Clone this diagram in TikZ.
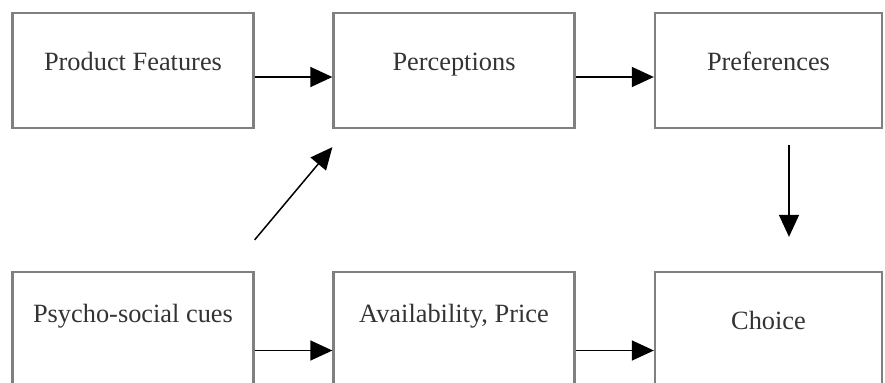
\documentclass[tikz,border=0pt]{standalone}
\usepackage{fontspec}
\setmainfont{Liberation Serif}
\usepackage{tikz}
\usetikzlibrary{arrows.meta}
\definecolor{boxline}{HTML}{808080}
\definecolor{boxtext}{HTML}{333333}
\tikzset{
  box/.style    = {draw=boxline,line width=1.3pt,minimum width=4.82cm,
                   minimum height=2.3cm,inner sep=0pt,text=boxtext,
                   font=\fontsize{15}{18}\selectfont,
                   text height=0.3cm,text depth=0.3cm},
  narrow/.style = {box,minimum width=4.54cm},
  lifted/.style = {text depth=0.58cm},
  flowarr/.style= {-{Triangle[length=0.44cm,width=0.4cm]},line width=0.85pt,black},
}

\begin{document}
\begin{tikzpicture}
  \clip (0,0) rectangle (17.7,-7.64);
  % top row
  \node[box]    (feat) at (2.66,-1.41)  {Product Features};
  \node[box]    (perc) at (9.08,-1.41)  {Perceptions};
  \node[narrow] (pref) at (15.37,-1.41) {Preferences};
  % bottom row
  \node[box,lifted] (cues)  at (2.66,-6.59)  {Psycho-social cues};
  \node[box,lifted] (avail) at (9.08,-6.59)  {Availability, Price};
  \node[narrow]     (choi)  at (15.37,-6.59) {Choice};
  % connectors
  \draw[flowarr] ([yshift=-0.13cm]feat.east) -- ([yshift=-0.13cm]perc.west);
  \draw[flowarr] ([yshift=-0.13cm]perc.east) -- ([yshift=-0.13cm]pref.west);
  \draw[flowarr] ([xshift=0.41cm,yshift=-0.32cm]pref.south)
              -- ([xshift=0.41cm,yshift=0.68cm]choi.north);
  \draw[flowarr] ([yshift=0.62cm]cues.north east) -- ([yshift=-0.36cm]perc.south west);
  \draw[flowarr] ([yshift=-0.42cm]cues.east) -- ([yshift=-0.42cm]avail.west);
  \draw[flowarr] ([yshift=-0.42cm]avail.east) -- ([yshift=-0.42cm]choi.west);
\end{tikzpicture}
\end{document}
